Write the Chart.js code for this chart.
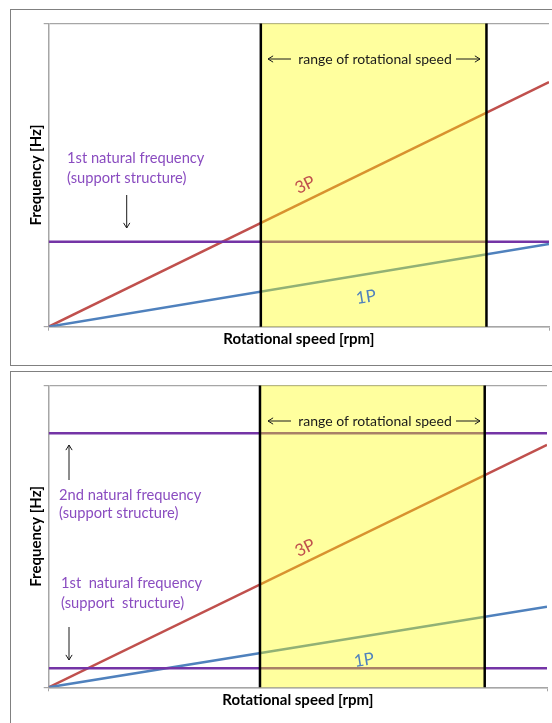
<!DOCTYPE html>
<html>
<head>
<meta charset="utf-8">
<script src="https://cdn.jsdelivr.net/npm/chart.js@4.4.1/dist/chart.umd.min.js"></script>
<style>
    html, body { margin: 0; padding: 0; background: #fff; width: 552px; height: 723px; overflow: hidden; position: relative; }
    .frame { position: absolute; left: 10px; width: 600px; border: 1px solid #808080; box-sizing: border-box; }
    canvas { position: absolute; left: 0; }
</style>
</head>
<body>
<div class="frame" style="top:9px; height:357px;"></div>
<div class="frame" style="top:371px; height:400px;"></div>
<canvas id="topChart" width="552" height="368" style="top:0"></canvas>
<canvas id="bottomChart" width="552" height="355" style="top:368px"></canvas>
<script>
// Campbell-type diagram: 1P / 3P excitation vs natural frequencies

// ---- data (arbitrary units) ----
const speed = [0, 100];
const speedRange = [42.4, 87.5];

// top panel
const top1P = [0, 27.3];
const top3P = [0, 80.7];
const topNat1 = [28.0, 28.0];

// bottom panel
const bot1P = [0, 26.7];
const bot3P = [0, 80.3];
const botNat1 = [6.3, 6.3];
const botNat2 = [84.2, 84.2];

const COLORS = {
    p1: '#4f81bd',
    p3: '#c0504d',
    nat: '#7434a6',
    band: 'rgba(255,255,0,0.38)',
    axis: '#a6a6a6',
    text: '#1a1a1a',
    label: '#8a4cc0',
};

const FONT = "Lato, 'Open Sans', sans-serif";

const pts = (ys) => speed.map((x, i) => ({ x, y: ys[i] }));

function lineSet(label, ys, color) {
    return {
        label,
        data: pts(ys),
        borderColor: color,
        borderWidth: 2.5,
        pointRadius: 0,
        tension: 0,
        fill: false,
    };
}

function drawArrow(ctx, x1, y1, x2, y2) {
    const a = Math.atan2(y2 - y1, x2 - x1);
    const h = 6;
    ctx.beginPath();
    ctx.moveTo(x1, y1);
    ctx.lineTo(x2, y2);
    ctx.moveTo(x2 - h * Math.cos(a - 0.55), y2 - h * Math.sin(a - 0.55));
    ctx.lineTo(x2, y2);
    ctx.lineTo(x2 - h * Math.cos(a + 0.55), y2 - h * Math.sin(a + 0.55));
    ctx.stroke();
}

function rotText(ctx, text, x, y, deg, color) {
    ctx.save();
    ctx.translate(x, y);
    ctx.rotate(deg * Math.PI / 180);
    ctx.fillStyle = color;
    ctx.font = `17px ${FONT}`;
    ctx.textAlign = 'center';
    ctx.textBaseline = 'middle';
    ctx.fillText(text, 0, 0);
    ctx.restore();
}

// band, its edges and the text notes
function annotations(extra) {
    return {
        id: 'notes',
        afterDatasetsDraw(chart) {
            const { ctx, chartArea: a, scales: { x } } = chart;
            const x1 = x.getPixelForValue(speedRange[0]);
            const x2 = x.getPixelForValue(speedRange[1]);
            ctx.save();
            ctx.fillStyle = COLORS.band;
            ctx.fillRect(x1, a.top, x2 - x1, a.bottom - a.top);
            ctx.strokeStyle = '#000';
            ctx.lineWidth = 2.5;
            [x1, x2].forEach(px => {
                ctx.beginPath();
                ctx.moveTo(px, a.top);
                ctx.lineTo(px, a.bottom);
                ctx.stroke();
            });

            // range of rotational speed
            const ty = a.top + 35.5;
            ctx.lineWidth = 1;
            ctx.strokeStyle = COLORS.text;
            drawArrow(ctx, 291, ty, 268, ty);
            drawArrow(ctx, 456, ty, 480, ty);
            ctx.fillStyle = COLORS.text;
            ctx.font = `14px ${FONT}`;
            ctx.textAlign = 'center';
            ctx.textBaseline = 'middle';
            ctx.fillText('range of rotational speed', 375, ty);

            extra(ctx);
            ctx.restore();
        }
    };
}

function makeChart(id, datasets, area, extra) {
    const ctx = document.getElementById(id);
    new Chart(ctx, {
        type: 'line',
        data: { datasets },
        options: {
            responsive: false,
            animation: false,
            layout: { padding: { top: area.top, right: area.right, left: 0, bottom: 0 } },
            plugins: { legend: { display: false }, tooltip: { enabled: false } },
            scales: {
                x: {
                    type: 'linear',
                    min: 0,
                    max: 100,
                    afterFit: s => { s.height = area.xh; },
                    ticks: { display: false, stepSize: 100 },
                    grid: { drawOnChartArea: false, tickLength: 4, color: COLORS.axis },
                    border: { color: COLORS.axis, width: 1.5 },
                    title: {
                        display: true,
                        text: 'Rotational speed [rpm]',
                        color: '#000',
                        font: { family: FONT, size: 15, weight: 'bold' },
                        padding: { top: 0, bottom: area.xtPad },
                    }
                },
                y: {
                    min: 0,
                    max: 100,
                    afterFit: s => { s.width = 48.7; },
                    ticks: { display: false, stepSize: 100 },
                    grid: { tickLength: 5, color: COLORS.axis, lineWidth: 1.2 },
                    border: { color: COLORS.axis, width: 1.5 },
                    title: {
                        display: true,
                        text: 'Frequency [Hz]',
                        color: '#000',
                        font: { family: FONT, size: 15, weight: 'bold' },
                        padding: { top: 27.5, bottom: 0 },
                    }
                }
            }
        },
        plugins: [annotations(extra)]
    });
}

function purpleText(ctx, lines, x, ys) {
    ctx.fillStyle = COLORS.label;
    ctx.font = `14.7px ${FONT}`;
    ctx.textAlign = 'left';
    ctx.textBaseline = 'middle';
    lines.forEach((t, i) => ctx.fillText(t, x, ys[i]));
}

document.addEventListener('DOMContentLoaded', () => {
    makeChart('topChart', [
        lineSet('1st natural frequency', topNat1, COLORS.nat),
        lineSet('1P', top1P, COLORS.p1),
        lineSet('3P', top3P, COLORS.p3),
    ], { top: 23.5, right: 3, xh: 41.3, xtPad: 20 }, ctx => {
        purpleText(ctx, ['1st natural frequency', '(support structure)'], 67, [158, 178]);
        ctx.strokeStyle = COLORS.text;
        drawArrow(ctx, 126.7, 195, 126.7, 228);
        rotText(ctx, '3P', 305, 185, -26, COLORS.p3);
        rotText(ctx, '1P', 366, 297, -9, COLORS.p1);
    });

    makeChart('bottomChart', [
        lineSet('1st natural frequency', botNat1, COLORS.nat),
        lineSet('2nd natural frequency', botNat2, COLORS.nat),
        lineSet('1P', bot1P, COLORS.p1),
        lineSet('3P', bot3P, COLORS.p3),
    ], { top: 17.5, right: 5, xh: 35.7, xtPad: 14 }, ctx => {
        purpleText(ctx, ['2nd natural frequency', '(support structure)'], 59, [127, 145]);
        purpleText(ctx, ['1st  natural frequency', '(support  structure)'], 61, [215, 235]);
        ctx.strokeStyle = COLORS.text;
        drawArrow(ctx, 69, 112, 69, 77);
        drawArrow(ctx, 69, 259, 69, 292);
        rotText(ctx, '3P', 305, 180, -26, COLORS.p3);
        rotText(ctx, '1P', 364, 292, -9, COLORS.p1);
    });
});
</script>
</body>
</html>
